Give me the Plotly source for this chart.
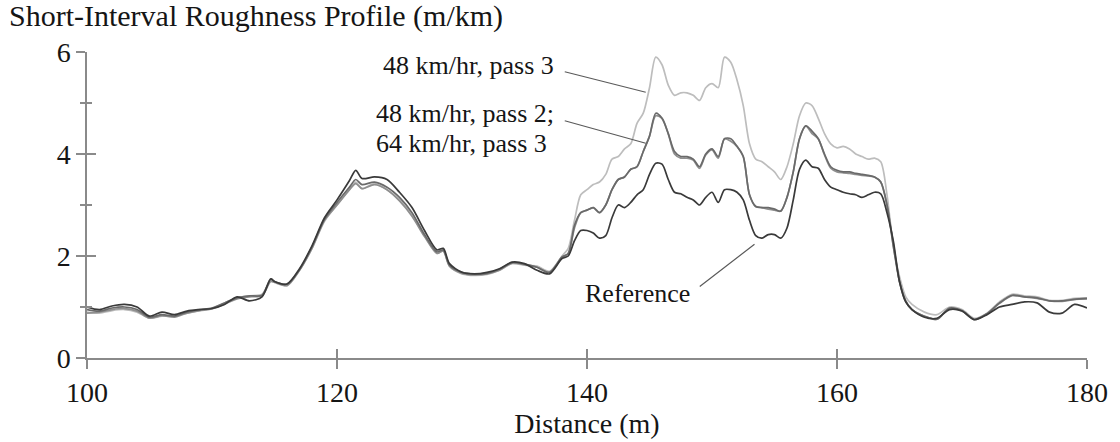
import plotly.graph_objects as go

# Distance along the section (m)
distance = [
    100, 101, 102, 103, 104, 105, 106, 107, 108, 109, 110, 111, 112, 113, 114, 114.7,
    115, 116, 117, 118, 119, 120, 121, 121.5, 122, 123, 124, 125, 126, 127, 128, 128.5,
    129, 130, 131, 132, 133, 134, 135, 136, 137,
    138, 138.5, 139, 139.5, 140, 140.5, 141, 141.5, 142, 142.5, 143, 143.5, 144, 144.5,
    145, 145.5, 146, 146.5, 147, 147.5, 148, 148.5, 149, 149.5, 150, 150.5, 151, 151.5,
    152, 152.5, 153, 153.5, 154, 154.5, 155, 155.5, 156, 156.5, 157, 157.5, 158, 158.5,
    159, 159.5, 160, 160.5, 161, 161.5, 162, 162.5, 163, 163.5, 164, 164.5, 165, 165.5, 166,
    167, 168, 169, 170, 171, 172, 173, 174, 175, 176, 177, 178, 179, 180,
]

# Short-interval roughness (m/km)
reference = [
    1.00, 0.95, 1.02, 1.05, 1.00, 0.82, 0.90, 0.85, 0.92, 0.95, 0.97, 1.05, 1.20, 1.12, 1.20, 1.55,
    1.50, 1.45, 1.75, 2.20, 2.75, 3.10, 3.48, 3.68, 3.52, 3.55, 3.50, 3.25, 2.95, 2.50, 2.12, 2.15,
    1.85, 1.68, 1.65, 1.68, 1.75, 1.88, 1.85, 1.72, 1.65,
    1.95, 2.00, 2.30, 2.50, 2.50, 2.45, 2.35, 2.40, 2.75, 3.00, 2.95, 3.05, 3.20, 3.30,
    3.60, 3.82, 3.80, 3.50, 3.25, 3.22, 3.15, 3.10, 3.00, 3.15, 3.25, 3.05, 3.30, 3.30,
    3.25, 3.10, 2.70, 2.40, 2.35, 2.42, 2.42, 2.35, 2.55, 3.10, 3.70, 3.88, 3.75, 3.72,
    3.50, 3.35, 3.30, 3.25, 3.22, 3.20, 3.15, 3.20, 3.25, 3.22, 2.85, 2.30, 1.50, 1.10, 0.95,
    0.80, 0.78, 0.95, 0.92, 0.75, 0.85, 1.00, 1.05, 1.10, 1.08, 0.90, 0.88, 1.05, 0.98,
]

kmh48_pass3 = [
    0.90, 0.88, 0.93, 0.95, 0.90, 0.78, 0.82, 0.82, 0.88, 0.93, 0.97, 1.08, 1.18, 1.22, 1.25, 1.52,
    1.50, 1.42, 1.72, 2.15, 2.68, 3.00, 3.30, 3.45, 3.32, 3.42, 3.30, 3.10, 2.80, 2.40, 2.05, 2.10,
    1.80, 1.65, 1.62, 1.64, 1.72, 1.85, 1.82, 1.80, 1.70,
    2.00, 2.15, 2.70, 3.20, 3.30, 3.40, 3.45, 3.60, 3.90, 3.95, 4.10, 4.20, 4.60, 4.80,
    5.30, 5.90, 5.75, 5.35, 5.15, 5.20, 5.20, 5.15, 5.05, 5.30, 5.38, 5.30, 5.90, 5.80,
    5.45, 4.95, 4.20, 3.90, 3.85, 3.75, 3.65, 3.50, 3.75, 4.20, 4.75, 5.00, 4.95, 4.70,
    4.40, 4.20, 4.12, 4.15, 4.10, 4.00, 3.95, 3.90, 3.92, 3.85, 3.20, 2.20, 1.60, 1.20, 1.05,
    0.90, 0.85, 1.00, 0.95, 0.78, 0.88, 1.10, 1.25, 1.22, 1.20, 1.13, 1.13, 1.17, 1.18,
]

kmh48_pass2 = [
    0.95, 0.92, 0.98, 1.00, 0.95, 0.80, 0.85, 0.82, 0.90, 0.95, 0.98, 1.08, 1.18, 1.22, 1.23, 1.55,
    1.50, 1.45, 1.73, 2.18, 2.72, 3.05, 3.35, 3.50, 3.40, 3.45, 3.35, 3.15, 2.85, 2.42, 2.08, 2.12,
    1.82, 1.68, 1.65, 1.66, 1.74, 1.87, 1.84, 1.78, 1.68,
    1.98, 2.05, 2.60, 2.85, 2.90, 2.95, 2.85, 3.00, 3.30, 3.50, 3.55, 3.70, 3.75, 4.05,
    4.35, 4.80, 4.70, 4.40, 4.05, 3.95, 3.95, 3.90, 3.75, 4.00, 4.10, 3.95, 4.30, 4.30,
    4.15, 3.95, 3.20, 2.97, 2.95, 2.95, 2.92, 2.88, 3.15, 3.65, 4.30, 4.55, 4.45, 4.30,
    4.00, 3.75, 3.68, 3.65, 3.65, 3.62, 3.60, 3.58, 3.55, 3.45, 3.00, 2.20, 1.50, 1.12, 0.95,
    0.82, 0.76, 0.98, 0.93, 0.76, 0.87, 1.08, 1.23, 1.20, 1.18, 1.12, 1.12, 1.15, 1.17,
]

kmh64_pass3 = [
    0.88, 0.90, 0.95, 0.97, 0.92, 0.78, 0.83, 0.80, 0.88, 0.93, 0.96, 1.06, 1.16, 1.20, 1.22, 1.50,
    1.48, 1.42, 1.72, 2.15, 2.70, 3.00, 3.30, 3.42, 3.32, 3.40, 3.30, 3.08, 2.78, 2.38, 2.05, 2.10,
    1.80, 1.66, 1.63, 1.65, 1.72, 1.86, 1.83, 1.78, 1.68,
    1.97, 2.05, 2.55, 2.85, 2.90, 2.95, 2.85, 3.00, 3.30, 3.50, 3.55, 3.70, 3.75, 4.05,
    4.35, 4.75, 4.70, 4.40, 4.00, 3.92, 3.92, 3.88, 3.72, 3.98, 4.08, 3.92, 4.30, 4.25,
    4.15, 3.95, 3.20, 2.97, 2.95, 2.92, 2.90, 2.88, 3.15, 3.65, 4.30, 4.55, 4.40, 4.30,
    3.98, 3.72, 3.65, 3.63, 3.62, 3.60, 3.58, 3.57, 3.55, 3.45, 3.00, 2.25, 1.50, 1.10, 0.95,
    0.82, 0.76, 0.97, 0.92, 0.75, 0.87, 1.07, 1.22, 1.20, 1.17, 1.12, 1.11, 1.15, 1.16,
]

x_ticks = [100, 120, 140, 160, 180]
y_ticks = [0, 2, 4, 6]
y_minor = [1, 3, 5]

SERIF = "Liberation Serif, Times New Roman, serif"
AXIS_GREY = "#8a8a8a"
TEXT = "#151515"

fig = go.Figure()

series = [
    (kmh48_pass3, "#bdbdbd"),
    (kmh64_pass3, "#8f8f8f"),
    (kmh48_pass2, "#6a6a6a"),
    (reference, "#3a3a3a"),
]
for values, colour in series:
    fig.add_trace(go.Scatter(
        x=distance, y=values, mode="lines",
        line=dict(color=colour, width=1.7, shape="spline", smoothing=0.8),
        showlegend=False, hoverinfo="skip",
    ))

# helper trace so the overlay axes (inner half of the crossing ticks) are drawn
fig.add_trace(go.Scatter(x=[None], y=[None], xaxis="x2", yaxis="y2",
                         showlegend=False, hoverinfo="skip"))

tick_style = dict(tickcolor=AXIS_GREY, tickwidth=1.5)

fig.update_layout(
    width=1120, height=442,
    margin=dict(l=87, r=30, t=52, b=78),
    paper_bgcolor="white", plot_bgcolor="white",
    showlegend=False,
    title=dict(
        text="Short-Interval Roughness Profile (m/km)",
        font=dict(family=SERIF, size=30, color=TEXT),
        x=0.008, xanchor="left", xref="container",
        y=0.988, yanchor="top", yref="container",
        pad=dict(t=0, b=0, l=0, r=0),
    ),
    xaxis=dict(
        range=[100, 180], tickvals=x_ticks, ticks="outside", ticklen=9, **tick_style,
        showline=True, linecolor=AXIS_GREY, linewidth=1.5,
        showgrid=False, zeroline=False,
        tickfont=dict(family=SERIF, size=28, color=TEXT),
        title=dict(text="Distance (m)", font=dict(family=SERIF, size=28, color=TEXT), standoff=2),
    ),
    yaxis=dict(
        range=[0, 6], tickvals=y_ticks, ticks="outside", ticklen=9, **tick_style,
        minor=dict(tickvals=y_minor, ticks="outside", ticklen=5, tickcolor=AXIS_GREY, tickwidth=1.5),
        showline=True, linecolor=AXIS_GREY, linewidth=1.5,
        showgrid=False, zeroline=False,
        tickfont=dict(family=SERIF, size=28, color=TEXT),
    ),
    xaxis2=dict(
        overlaying="x", anchor="y", side="bottom", range=[100, 180],
        tickvals=x_ticks, ticks="inside", ticklen=9, **tick_style,
        showticklabels=False, showline=False, showgrid=False, zeroline=False,
    ),
    yaxis2=dict(
        overlaying="y", anchor="x", side="left", range=[0, 6],
        tickvals=y_ticks, ticks="inside", ticklen=9, **tick_style,
        minor=dict(tickvals=y_minor, ticks="inside", ticklen=5, tickcolor=AXIS_GREY, tickwidth=1.5),
        showticklabels=False, showline=False, showgrid=False, zeroline=False,
    ),
)

label_font = dict(family=SERIF, size=26, color=TEXT)
# (text, left x, middle y)
labels = [
    ("48 km/hr, pass 3", 123.5, 5.73),
    ("48 km/hr, pass 2;", 122.95, 4.79),
    ("64 km/hr, pass 3", 122.95, 4.21),
    ("Reference", 139.68, 1.27),
]
for text, lx, ly in labels:
    fig.add_annotation(x=lx, y=ly, xref="x", yref="y", text=text, showarrow=False,
                       xanchor="left", yanchor="middle", font=label_font)

# leader lines: (head x, head y, tail x, tail y)
leaders = [
    (144.7, 5.21, 138.1, 5.62),
    (144.7, 4.21, 138.1, 4.66),
    (153.4, 2.23, 148.9, 1.38),
]
for hx, hy, tx, ty in leaders:
    fig.add_annotation(x=hx, y=hy, xref="x", yref="y", ax=tx, ay=ty, axref="x", ayref="y",
                       text="", showarrow=True, arrowhead=0, arrowwidth=1.2,
                       arrowcolor="#5a5a5a", standoff=0, startstandoff=0)

fig.write_html("out.html")
